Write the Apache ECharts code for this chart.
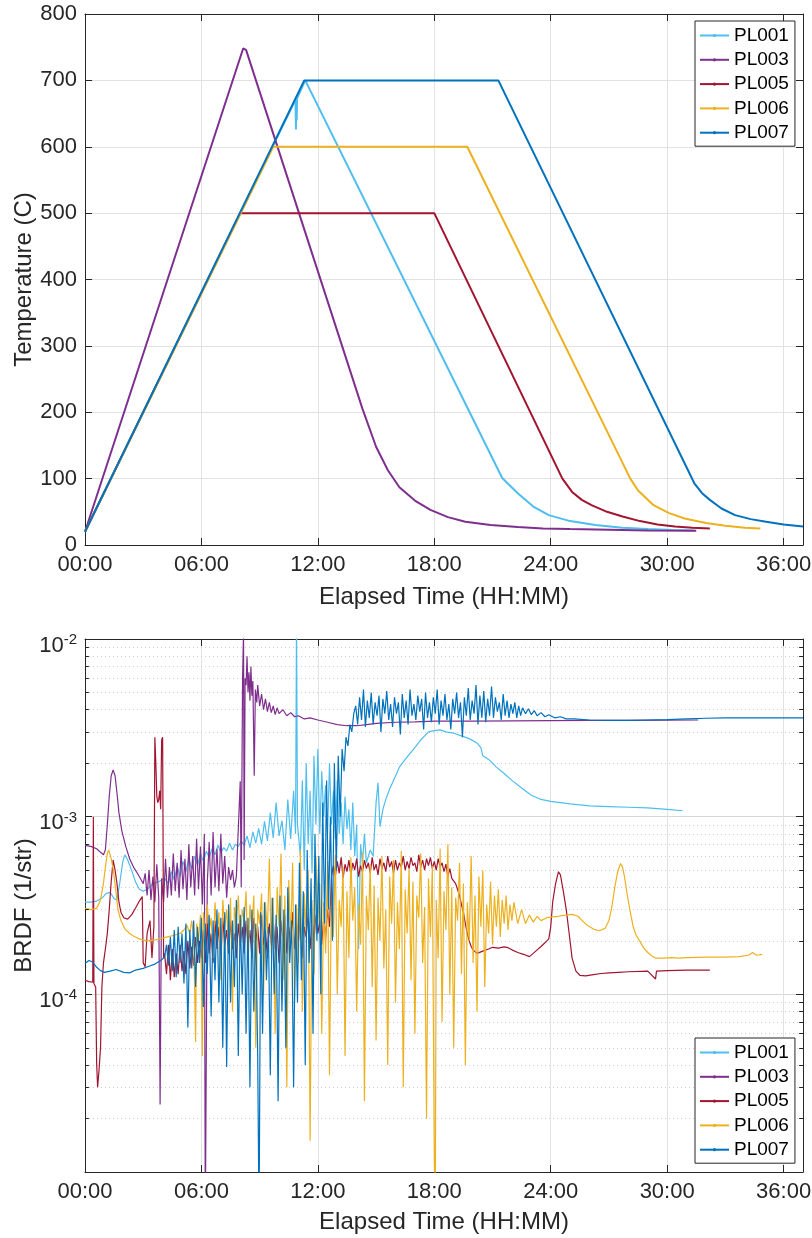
<!DOCTYPE html>
<html><head><meta charset="utf-8">
<script src="https://cdn.jsdelivr.net/npm/echarts@6/dist/echarts.min.js"></script>
<style>html,body{margin:0;padding:0;background:#fff}#c{width:812px;height:1238px}</style>
</head><body><div id="c"></div>
<script>
// ---------- names, colours, ticks ----------
const SERIES_NAMES = ['PL001','PL003','PL005','PL006','PL007'];
const COLORS = ['#4DBEEE','#7E2F8E','#A2142F','#EDB120','#0072BD'];
const X_MIN = 0, X_MAX = 37, X_STEP = 6;          // hours
const TEMP_MIN = 0, TEMP_MAX = 800, TEMP_STEP = 100;
const BRDF_MIN = 1e-5, BRDF_MAX = 1e-2;
const MINOR_MULT = [2,3,4,5,6,7,8,9];
const DECADES = [1e-5,1e-4,1e-3];
const BRDF_UNIT = 1e-4;   // BRDF arrays below are in units of 1e-4 1/str

// ---------- temperature [hours, C] ----------
const PL001_temp = [[0,20],[10.85,671],[10.87,626],[10.89,668],[10.91,640],[10.93,673],[11.35,700],[11.45,699],[21.5,101],[22.3,78],[23.1,58],[23.9,45],[25.0,36],[26.3,30],[27.7,26],[29.0,24],[30.3,22.5],[31.4,22]];
const PL003_temp = [[0,20],[8.15,748],[8.22,751],[8.3,746],[14.3,205],[15.0,148],[15.6,113],[16.2,87],[17.0,67],[17.8,53],[18.7,42],[19.6,35],[20.9,30],[22.3,27],[23.6,25],[25,24],[27,23],[29,22],[31.5,21.5]];
const PL005_temp = [[0,20],[8.0,500],[18.0,500],[24.6,100],[25.1,80],[25.6,68],[26.1,60],[26.9,50],[27.7,43],[28.6,36],[29.5,31],[30.4,28],[31.3,26],[32.2,25]];
const PL006_temp = [[0,20],[9.7,600],[19.7,600],[28.1,100],[28.5,82],[29.3,60],[30.1,48],[30.9,40],[32.0,33],[33.0,29],[34.0,26],[34.8,25]];
const PL007_temp = [[0,20],[11.3,700],[21.3,700],[31.4,93],[31.8,78],[32.2,68],[32.8,55],[33.5,45],[34.3,39],[35.1,35],[36.0,31],[37,28]];

// ---------- BRDF [hours, value x 1e-4 1/str] ----------
const PL001_brdf = [[0,3.3],[0.3,3.3],[0.6,3.35],[0.9,3.5],[1.1,3.7],[1.3,3.75],[1.5,3.45],[1.65,3.4],[1.8,4.3],[1.95,5.6],[2.05,6.1],[2.2,5.7],[2.4,5.0],[2.6,4.3],[2.8,3.9],[3.0,3.8],[3.2,3.9],[3.5,4.2],[3.8,4.3],[4.1,4.5],[4.3,4.2],[4.45,4.9],[4.6,4.4],[4.75,5.3],[4.9,4.6],[5.05,5.6],[5.2,4.9],[5.35,5.8],[5.5,5.1],[5.65,6.0],[5.8,5.3],[5.95,6.2],[6.1,5.6],[6.25,6.4],[6.4,5.9],[6.55,6.6],[6.7,6.1],[6.85,6.9],[7.0,6.3],[7.15,6.7],[7.3,6.4],[7.45,7.1],[7.6,6.5],[7.75,7.0],[7.9,6.8],[8.05,7.3],[8.2,6.9],[8.35,7.8],[8.5,6.7],[8.65,8.2],[8.8,7.1],[8.95,8.6],[9.1,7.0],[9.25,9.4],[9.4,7.3],[9.55,10.5],[9.7,7.6],[9.85,12],[10.0,7.8],[10.15,9.5],[10.3,6.5],[10.45,12.5],[10.6,7.5],[10.75,14],[10.85,8],[10.9,130],[10.95,9],[11.1,6],[11.2,16],[11.3,5],[11.4,20],[11.5,7],[11.6,14],[11.7,4.8],[11.8,22],[11.9,9],[12.0,24],[12.1,8],[12.2,18],[12.3,10],[12.4,15],[12.5,8],[12.6,20],[12.7,9],[12.8,14],[12.9,7.5],[13.0,16],[13.1,8],[13.2,12],[13.3,7],[13.4,13],[13.5,8.5],[13.6,11],[13.7,6.5],[13.8,12],[13.9,6],[14.0,9],[14.1,1.8],[14.2,7],[14.3,5.5],[14.4,8],[14.5,5.5],[14.7,6.5],[14.85,6.0],[15.0,12],[15.1,15.5],[15.2,8.8],[15.35,11],[15.5,12.5],[15.7,14.3],[15.9,16],[16.2,19],[16.5,21],[16.9,23.8],[17.3,27],[17.7,30],[18.0,30.5],[18.3,30.8],[18.6,30],[19.0,29.5],[19.4,28.5],[19.8,27.5],[20.2,26],[20.4,24.5],[20.5,22],[20.8,21],[21.2,19],[21.6,17.5],[22.0,16],[22.5,14.5],[23.0,13.2],[23.5,12.5],[24.0,12.2],[25,11.8],[26,11.5],[27,11.4],[28,11.3],[29,11.2],[30,11.0],[30.8,10.8]];

const PL003_brdf = [[0,6.9],[0.3,6.8],[0.6,6.6],[0.8,6.3],[0.95,6.1],[1.05,6.5],[1.15,9],[1.25,13],[1.35,17],[1.45,18.3],[1.55,17],[1.65,13.5],[1.75,10.5],[1.9,8.3],[2.1,6.8],[2.3,5.8],[2.5,5.2],[2.7,4.8],[2.9,4.4],[3.0,4.2],[3.1,4.8],[3.2,3.6],[3.3,5.0],[3.4,3.4],[3.5,4.6],[3.6,3.3],[3.7,5.4],[3.8,3.5],[3.87,0.24],[3.95,4.5],[4.05,3.3],[4.15,5.8],[4.25,3.5],[4.35,5.2],[4.45,3.6],[4.55,6.2],[4.65,3.8],[4.75,5.5],[4.85,3.5],[4.95,6.5],[5.05,3.9],[5.15,5.8],[5.25,3.4],[5.35,7.0],[5.45,4.0],[5.55,6.0],[5.65,3.6],[5.75,7.5],[5.85,3.9],[5.95,6.8],[6.05,3.2],[6.15,8.0],[6.2,0.05],[6.3,4.2],[6.4,7.2],[6.5,3.6],[6.6,8.2],[6.7,4.0],[6.8,6.6],[6.9,3.8],[7.0,8.0],[7.1,4.2],[7.2,6.0],[7.3,3.5],[7.4,5.2],[7.5,4.4],[7.6,5.0],[7.7,4.0],[7.8,4.6],[7.9,4.5],[8.0,15.8],[8.05,4.0],[8.12,60],[8.17,110],[8.2,5.7],[8.25,60],[8.3,55],[8.35,80],[8.4,50],[8.45,65],[8.5,45],[8.55,70],[8.6,48],[8.65,58],[8.72,17],[8.78,52],[8.85,44],[8.9,55],[9.0,42],[9.1,49],[9.2,40],[9.3,46],[9.4,39],[9.5,44],[9.6,38.5],[9.7,42],[9.8,37.5],[9.9,41],[10.0,38],[10.2,40],[10.4,37],[10.6,38.5],[10.8,36.5],[11.0,37],[11.3,35.5],[11.6,36],[12.0,35],[12.5,34],[13.0,33],[13.5,32.5],[14.0,32.5],[14.5,33],[15.0,33.5],[16,34],[17,34.2],[18,34.5],[20,34.5],[22,34.6],[24,34.7],[26,34.8],[28,34.8],[30,34.9],[31.6,35]];

const PL005_brdf = [[0,1.2],[0.2,1.18],[0.4,1.17],[0.43,10],[0.46,1.15],[0.55,1.1],[0.6,0.41],[0.65,0.30],[0.72,0.37],[0.8,0.5],[0.87,1.1],[0.95,1.5],[1.05,1.8],[1.15,2.2],[1.25,3.0],[1.35,4.3],[1.45,5.7],[1.55,5.0],[1.65,4.2],[1.75,3.3],[1.85,2.9],[2.0,2.7],[2.2,2.65],[2.4,2.8],[2.6,3.05],[2.8,3.35],[2.95,3.55],[3.0,1.5],[3.1,1.43],[3.2,2.2],[3.35,2.6],[3.45,1.6],[3.55,2.4],[3.6,28],[3.65,20],[3.7,13],[3.75,12],[3.8,12.5],[3.85,14],[3.9,11],[3.95,27],[4.0,28],[4.05,1.6],[4.1,1.7],[4.2,1.3],[4.3,1.9],[4.4,1.2],[4.5,1.8],[4.6,1.25],[4.7,1.7],[4.8,1.3],[4.9,1.9],[5.0,1.35],[5.1,1.75],[5.2,1.3],[5.3,2.0],[5.4,1.4],[5.5,1.85],[5.6,1.45],[5.7,2.1],[5.8,1.5],[5.9,2.0],[6.0,1.6],[6.1,2.3],[6.2,1.5],[6.3,2.5],[6.4,1.7],[6.5,2.2],[6.6,1.5],[6.7,2.6],[6.8,1.8],[6.9,2.4],[7.0,1.6],[7.1,2.7],[7.2,1.9],[7.3,2.3],[7.4,1.7],[7.5,2.6],[7.6,1.8],[7.7,2.2],[7.8,1.6],[7.9,2.5],[8.0,1.9],[8.1,2.4],[8.2,1.7],[8.3,2.6],[8.4,1.9],[8.5,2.3],[8.6,1.6],[8.7,2.7],[8.8,2.0],[8.9,2.4],[9.0,1.7],[9.1,2.8],[9.2,1.9],[9.3,2.3],[9.4,1.6],[9.5,2.5],[9.6,1.9],[9.7,2.6],[9.8,1.8],[9.9,2.4],[10.0,1.5],[10.1,2.6],[10.2,2.0],[10.3,2.8],[10.4,1.7],[10.5,2.4],[10.6,1.9],[10.7,2.9],[10.8,1.8],[10.9,2.5],[11.0,2.0],[11.1,2.7],[11.2,1.6],[11.3,2.4],[11.4,2.1],[11.5,2.9],[11.6,1.8],[11.7,2.6],[11.8,2.0],[11.9,2.8],[12.0,2.2],[12.1,2.6],[12.2,1.9],[12.3,2.7],[12.4,2.1],[12.5,3.0],[12.6,2.4],[12.7,4.6],[12.8,5.3],[12.9,4.6],[13.0,5.6],[13.1,4.8],[13.2,5.9],[13.3,4.5],[13.4,5.4],[13.5,4.9],[13.6,5.7],[13.7,4.7],[13.8,5.5],[13.9,5.0],[14.0,5.8],[14.1,4.6],[14.2,5.3],[14.3,4.9],[14.4,5.7],[14.5,5.1],[14.6,5.5],[14.7,4.8],[14.8,5.9],[14.9,5.0],[15.0,5.4],[15.1,4.7],[15.2,5.8],[15.3,5.1],[15.4,5.5],[15.5,4.9],[15.6,6.0],[15.7,5.2],[15.8,5.6],[15.9,4.8],[16.0,5.7],[16.1,5.0],[16.2,5.5],[16.3,5.2],[16.4,6.0],[16.5,5.0],[16.6,5.6],[16.7,5.1],[16.8,5.9],[16.9,5.3],[17.0,5.5],[17.1,4.9],[17.2,6.1],[17.3,5.2],[17.4,5.7],[17.5,5.0],[17.6,5.8],[17.7,5.3],[17.8,5.9],[17.9,5.1],[18.0,5.6],[18.1,5.0],[18.2,5.8],[18.3,5.2],[18.4,5.5],[18.5,4.9],[18.6,5.4],[18.7,4.6],[18.8,5.1],[18.9,4.5],[19.0,4.6],[19.1,4.2],[19.2,4.1],[19.3,3.6],[19.4,3.2],[19.5,2.9],[19.6,2.5],[19.7,2.2],[19.8,2.0],[19.9,1.86],[20.0,1.78],[20.2,1.7],[20.5,1.75],[20.8,1.8],[21.0,1.84],[21.3,1.82],[21.6,1.85],[21.8,1.83],[22.0,1.78],[22.3,1.72],[22.6,1.68],[22.9,1.63],[23.1,1.7],[23.3,1.78],[23.5,1.86],[23.7,1.95],[23.9,2.05],[24.0,2.4],[24.1,3.3],[24.25,4.2],[24.4,4.9],[24.5,4.7],[24.65,3.8],[24.8,3.0],[24.95,2.2],[25.1,1.6],[25.3,1.35],[25.5,1.28],[25.8,1.27],[26.2,1.29],[26.6,1.31],[27.0,1.32],[27.5,1.33],[28,1.34],[29,1.35],[29.4,1.22],[29.45,1.35],[30,1.36],[31,1.37],[32.2,1.37]];

const PL006_brdf = [[0,3.05],[0.3,3.0],[0.6,3.05],[0.8,3.4],[0.95,4.2],[1.05,5.2],[1.15,6.2],[1.22,6.5],[1.35,5.8],[1.46,5.0],[1.58,3.9],[1.7,3.0],[1.85,2.6],[2.06,2.33],[2.3,2.2],[2.5,2.13],[2.8,2.05],[3.2,2.0],[3.7,2.03],[4.2,2.1],[4.6,2.15],[4.9,2.2],[5.1,2.3],[5.25,2.45],[5.4,2.2],[5.5,2.6],[5.6,2.1],[5.7,0.54],[5.75,2.5],[5.85,2.0],[5.95,2.8],[6.05,0.45],[6.1,2.9],[6.2,2.0],[6.3,3.2],[6.4,2.3],[6.5,2.7],[6.6,1.6],[6.7,3.3],[6.8,2.2],[6.9,2.9],[7.0,1.2],[7.1,3.4],[7.2,2.4],[7.3,3.0],[7.4,1.8],[7.5,3.5],[7.6,0.8],[7.7,3.1],[7.8,2.5],[7.9,3.6],[8.0,1.9],[8.1,3.0],[8.2,2.6],[8.3,3.8],[8.4,1.4],[8.5,3.2],[8.6,2.3],[8.7,3.6],[8.8,0.5],[8.9,3.0],[9.0,2.5],[9.1,3.7],[9.2,1.0],[9.3,3.3],[9.4,2.2],[9.5,5.8],[9.6,1.7],[9.7,3.5],[9.8,0.6],[9.9,4.0],[10.0,2.4],[10.1,6.2],[10.2,1.2],[10.3,3.6],[10.4,0.3],[10.5,4.4],[10.6,2.0],[10.7,5.5],[10.8,0.9],[10.9,3.2],[11.0,1.5],[11.1,6.5],[11.2,0.8],[11.3,3.7],[11.4,2.2],[11.5,5.0],[11.6,0.15],[11.7,3.4],[11.8,1.3],[11.9,6.0],[12.0,2.5],[12.1,4.2],[12.2,0.6],[12.3,3.3],[12.4,1.7],[12.5,5.6],[12.6,0.35],[12.7,3.9],[12.8,2.1],[12.9,6.1],[13.0,1.0],[13.1,3.4],[13.2,2.4],[13.3,5.2],[13.4,0.45],[13.5,3.8],[13.6,1.6],[13.7,5.9],[13.8,2.6],[13.9,4.0],[14.0,0.8],[14.1,3.2],[14.2,1.9],[14.3,6.3],[14.4,0.25],[14.5,3.6],[14.6,2.3],[14.7,5.4],[14.8,1.1],[14.9,4.1],[15.0,0.55],[15.1,3.5],[15.2,2.0],[15.3,6.0],[15.4,1.4],[15.5,3.0],[15.6,0.4],[15.7,4.6],[15.8,2.5],[15.9,5.7],[16.0,0.9],[16.1,3.3],[16.2,1.8],[16.3,6.4],[16.4,0.3],[16.5,3.9],[16.6,2.2],[16.7,5.1],[16.8,1.2],[16.9,4.3],[17.0,0.6],[17.1,3.6],[17.2,2.7],[17.3,6.2],[17.4,1.5],[17.5,3.1],[17.6,0.2],[17.7,4.5],[17.8,2.1],[17.9,5.3],[18.0,0.12],[18.05,0.05],[18.1,3.4],[18.2,1.6],[18.3,6.6],[18.4,0.7],[18.5,3.8],[18.6,2.3],[18.7,7.0],[18.8,1.0],[18.9,4.0],[19.0,0.5],[19.1,3.5],[19.2,2.6],[19.3,5.5],[19.4,1.3],[19.5,4.2],[19.6,0.4],[19.7,3.3],[19.8,2.0],[19.9,6.0],[20.0,1.5],[20.1,3.6],[20.2,0.8],[20.3,4.6],[20.4,2.4],[20.5,5.0],[20.6,1.1],[20.7,3.2],[20.8,2.2],[20.9,4.3],[21.0,1.9],[21.1,3.6],[21.2,2.4],[21.3,3.9],[21.4,2.1],[21.5,3.4],[21.6,2.5],[21.7,3.6],[21.8,2.3],[21.9,3.2],[22.0,2.6],[22.1,3.3],[22.3,2.5],[22.5,3.0],[22.7,2.5],[22.9,2.8],[23.1,2.55],[23.3,2.75],[23.5,2.6],[23.8,2.7],[24.0,2.72],[24.4,2.75],[24.8,2.8],[25.1,2.82],[25.4,2.75],[25.7,2.55],[25.9,2.44],[26.2,2.33],[26.5,2.28],[26.8,2.35],[27.0,2.6],[27.15,3.1],[27.3,4.0],[27.45,4.9],[27.6,5.45],[27.7,5.2],[27.8,4.6],[27.95,3.6],[28.1,2.9],[28.25,2.4],[28.4,2.15],[28.6,1.98],[28.8,1.82],[29.0,1.72],[29.2,1.65],[29.4,1.6],[29.8,1.6],[30.2,1.61],[30.6,1.6],[31,1.61],[32,1.62],[33,1.62],[33.7,1.63],[34.2,1.66],[34.4,1.72],[34.6,1.66],[34.9,1.68]];

const PL007_brdf = [[0,1.49],[0.2,1.55],[0.4,1.52],[0.6,1.42],[0.8,1.36],[1.0,1.33],[1.3,1.35],[1.6,1.38],[2.0,1.33],[2.3,1.32],[2.6,1.37],[3.0,1.40],[3.3,1.44],[3.6,1.48],[3.9,1.55],[4.1,1.62],[4.2,1.9],[4.3,1.45],[4.4,2.1],[4.5,1.35],[4.6,2.3],[4.7,1.25],[4.8,2.4],[4.9,1.5],[5.0,2.2],[5.1,1.15],[5.2,2.5],[5.3,0.65],[5.4,2.3],[5.5,1.4],[5.6,2.6],[5.7,1.1],[5.8,2.4],[5.9,1.5],[6.0,2.7],[6.1,0.85],[6.2,2.5],[6.3,1.3],[6.4,2.8],[6.5,0.75],[6.6,2.6],[6.7,1.2],[6.8,3.0],[6.9,0.9],[7.0,2.7],[7.1,0.5],[7.2,2.9],[7.3,0.39],[7.4,3.2],[7.5,0.9],[7.6,2.6],[7.7,1.1],[7.8,3.4],[7.9,0.45],[8.0,2.8],[8.1,1.0],[8.2,3.1],[8.3,0.6],[8.4,2.7],[8.5,0.3],[8.6,3.0],[8.7,0.8],[8.8,2.5],[8.9,0.45],[8.97,0.05],[9.05,2.9],[9.15,0.6],[9.25,3.3],[9.35,1.2],[9.45,2.4],[9.55,0.35],[9.65,3.5],[9.75,1.0],[9.85,2.8],[9.95,0.25],[10.05,3.6],[10.15,0.8],[10.25,3.0],[10.35,0.5],[10.45,4.0],[10.55,1.5],[10.65,2.6],[10.75,0.3],[10.85,3.2],[10.95,0.9],[11.05,5.5],[11.15,1.2],[11.25,3.8],[11.35,0.4],[11.45,6.5],[11.55,1.5],[11.65,4.5],[11.75,0.6],[11.85,8.0],[11.95,2.0],[12.05,6.0],[12.15,1.0],[12.25,12],[12.35,2.5],[12.45,16],[12.55,3.0],[12.65,10],[12.75,2.0],[12.85,20],[12.95,5],[13.05,22],[13.15,10],[13.25,24],[13.35,18],[13.45,28],[13.55,25],[13.65,33],[13.75,30],[13.85,38],[13.95,42],[14.05,33],[14.15,47],[14.25,35],[14.35,52],[14.45,32],[14.55,45],[14.65,36],[14.75,50],[14.85,33],[14.95,44],[15.05,37],[15.15,48],[15.25,30],[15.35,46],[15.45,38],[15.55,51],[15.65,35],[15.75,43],[15.85,32],[15.95,47],[16.05,38],[16.15,44],[16.25,29],[16.35,49],[16.45,36],[16.55,45],[16.65,33],[16.75,52],[16.85,37],[16.95,43],[17.05,35],[17.15,48],[17.25,39],[17.35,46],[17.45,31],[17.55,50],[17.65,36],[17.75,44],[17.85,34],[17.95,47],[18.05,38],[18.15,52],[18.25,33],[18.35,45],[18.45,37],[18.55,49],[18.65,35],[18.75,43],[18.85,31],[18.95,46],[19.05,38],[19.15,50],[19.25,36],[19.35,44],[19.45,28],[19.55,47],[19.65,37],[19.75,53],[19.85,35],[19.95,45],[20.05,38],[20.15,55],[20.25,33],[20.35,48],[20.45,36],[20.55,51],[20.65,34],[20.75,46],[20.85,37],[20.95,54],[21.05,36],[21.15,47],[21.25,39],[21.35,44],[21.45,35],[21.55,49],[21.65,37],[21.75,45],[21.85,36],[21.95,43],[22.05,38],[22.15,44],[22.25,36],[22.35,42],[22.45,37],[22.55,41],[22.7,38],[22.85,40.5],[23.0,37.5],[23.15,39.5],[23.3,37],[23.5,38.5],[23.7,36.5],[23.9,37.5],[24.2,36],[24.5,36.5],[24.8,35.5],[25.2,35.5],[26,35],[27,34.8],[28,34.8],[29,35],[30,35.2],[31,35.5],[32,35.8],[33,36],[34,36],[35,36],[36,36],[37,36]];

const TEMP_DATA = [PL001_temp, PL003_temp, PL005_temp, PL006_temp, PL007_temp];
const BRDF_DATA = [PL001_brdf, PL003_brdf, PL005_brdf, PL006_brdf, PL007_brdf];

// ---------- styling helpers ----------
const FONT = "'Liberation Sans', Arial, Helvetica, sans-serif";
const INK = '#262626';
const GRID_C = '#e2e2e2';
const TICK_FS = 22, NAME_FS = 24;
const hhmm = v => (v % X_STEP === 0) ? ((v < 10 ? '0' : '') + v + ':00') : '';

function mkX(grid, pos, main, gap){
  return {
    type:'value', gridIndex:grid, position:pos, min:X_MIN, max:X_MAX, interval:X_STEP,
    name: main ? 'Elapsed Time (HH:MM)' : '', nameLocation:'middle', nameGap:gap, nameMoveOverlap:false,
    nameTextStyle:{fontSize:NAME_FS, color:INK, fontFamily:FONT},
    axisLine:{show:true, onZero:false, lineStyle:{color:INK, width:1}},
    axisTick:{show:true, inside:true, length:7, lineStyle:{color:INK}},
    axisLabel:{show:main, formatter:hhmm, fontSize:TICK_FS, color:INK, fontFamily:FONT, margin:9},
    splitLine:{show:main, lineStyle:{color:GRID_C, width:1}}
  };
}
function mkYTemp(pos, main){
  return {
    type:'value', gridIndex:0, position:pos, min:TEMP_MIN, max:TEMP_MAX, interval:TEMP_STEP,
    name: main ? 'Temperature (C)' : '', nameLocation:'middle', nameGap:49, nameRotate:90, nameMoveOverlap:false,
    nameTextStyle:{fontSize:NAME_FS, color:INK, fontFamily:FONT},
    axisLine:{show:true, onZero:false, lineStyle:{color:INK, width:1}},
    axisTick:{show:true, inside:true, length:7, lineStyle:{color:INK}},
    axisLabel:{show:main, fontSize:TICK_FS, color:INK, fontFamily:FONT, margin:8},
    splitLine:{show:main, lineStyle:{color:GRID_C, width:1}}
  };
}
function mkYLog(pos, main){
  return {
    type:'log', logBase:10, gridIndex:1, position:pos, min:BRDF_MIN, max:BRDF_MAX, splitNumber:3,
    name: main ? 'BRDF (1/str)' : '', nameLocation:'middle', nameGap:49, nameRotate:90, nameMoveOverlap:false,
    nameTextStyle:{fontSize:NAME_FS, color:INK, fontFamily:FONT},
    axisLine:{show:true, onZero:false, lineStyle:{color:INK, width:1}},
    axisTick:{show:true, inside:true, length:7, lineStyle:{color:INK}},
    axisLabel:{show:main, margin:8, padding:[13,0,0,0],
      formatter: v => { const e = Math.round(Math.log10(v)); return e <= -5 ? '' : '{b|10}{s|' + e + '}'; },
      rich:{ b:{fontSize:TICK_FS, lineHeight:26, color:INK, fontFamily:FONT},
             s:{fontSize:15, lineHeight:15, verticalAlign:'top', color:INK, fontFamily:FONT} } },
    splitLine:{show:main, lineStyle:{color:'#d6d6d6', width:1}}
  };
}
function mkLegend(top){
  return {
    orient:'vertical', left:695, top:top, data:SERIES_NAMES,
    itemWidth:29, itemHeight:4, itemGap:5.3, padding:[5,6,4,4],
    borderColor:INK, borderWidth:1, backgroundColor:'#fff', borderRadius:0,
    textStyle:{fontSize:19, lineHeight:19, color:'#000', fontFamily:FONT}
  };
}

// minor log tick values (2..9 x each decade)
const MINOR_VALUES = [];
DECADES.forEach(d => MINOR_MULT.forEach(m => MINOR_VALUES.push(m * d)));

const series = [];
// dotted minor grid lines (drawn first, behind data)
series.push({
  type:'lines', coordinateSystem:'cartesian2d', xAxisIndex:2, yAxisIndex:2, silent:true, z:1,
  lineStyle:{color:'#cdcdcd', type:[1,3], width:1, opacity:1},
  data: MINOR_VALUES.map(v => ({coords:[[X_MIN, v], [X_MAX, v]]}))
});
SERIES_NAMES.forEach((n, i) => {
  series.push({
    name:n, type:'line', xAxisIndex:0, yAxisIndex:0, data:TEMP_DATA[i],
    symbol:'circle', symbolSize:2, showSymbol:false, clip:true,
    lineStyle:{color:COLORS[i], width:2}, itemStyle:{color:COLORS[i]}, z:3+i
  });
});
SERIES_NAMES.forEach((n, i) => {
  series.push({
    name:n, type:'line', xAxisIndex:2, yAxisIndex:2,
    data:BRDF_DATA[i].map(p => [p[0], p[1] * BRDF_UNIT]),
    symbol:'circle', symbolSize:2, showSymbol:false, clip:true,
    lineStyle:{color:COLORS[i], width:1.2}, itemStyle:{color:COLORS[i]}, z:3+i
  });
});
// minor ticks on left / right log axes
series.push({
  type:'lines', coordinateSystem:'cartesian2d', xAxisIndex:2, yAxisIndex:2, silent:true, z:9,
  lineStyle:{color:INK, type:'solid', width:1, opacity:1},
  data: MINOR_VALUES.flatMap(v => [
    {coords:[[X_MIN, v], [X_MIN + 0.2, v]]},
    {coords:[[X_MAX - 0.2, v], [X_MAX, v]]}
  ])
});

const chart = echarts.init(document.getElementById('c'), null, {renderer:'canvas'});
chart.setOption({
  animation:false,
  backgroundColor:'#ffffff',
  textStyle:{fontFamily:FONT},
  grid:[{left:85, top:14, width:718, height:531, containLabel:false, outerBoundsMode:'none'},
        {left:85, top:639, width:718, height:533, containLabel:false, outerBoundsMode:'none'}],
  xAxis:[mkX(0,'bottom',true,40), mkX(0,'top',false,40), mkX(1,'bottom',true,38), mkX(1,'top',false,38)],
  yAxis:[mkYTemp('left',true), mkYTemp('right',false), mkYLog('left',true), mkYLog('right',false)],
  legend:[mkLegend(21), mkLegend(1038)],
  series:series
});
</script></body></html>
